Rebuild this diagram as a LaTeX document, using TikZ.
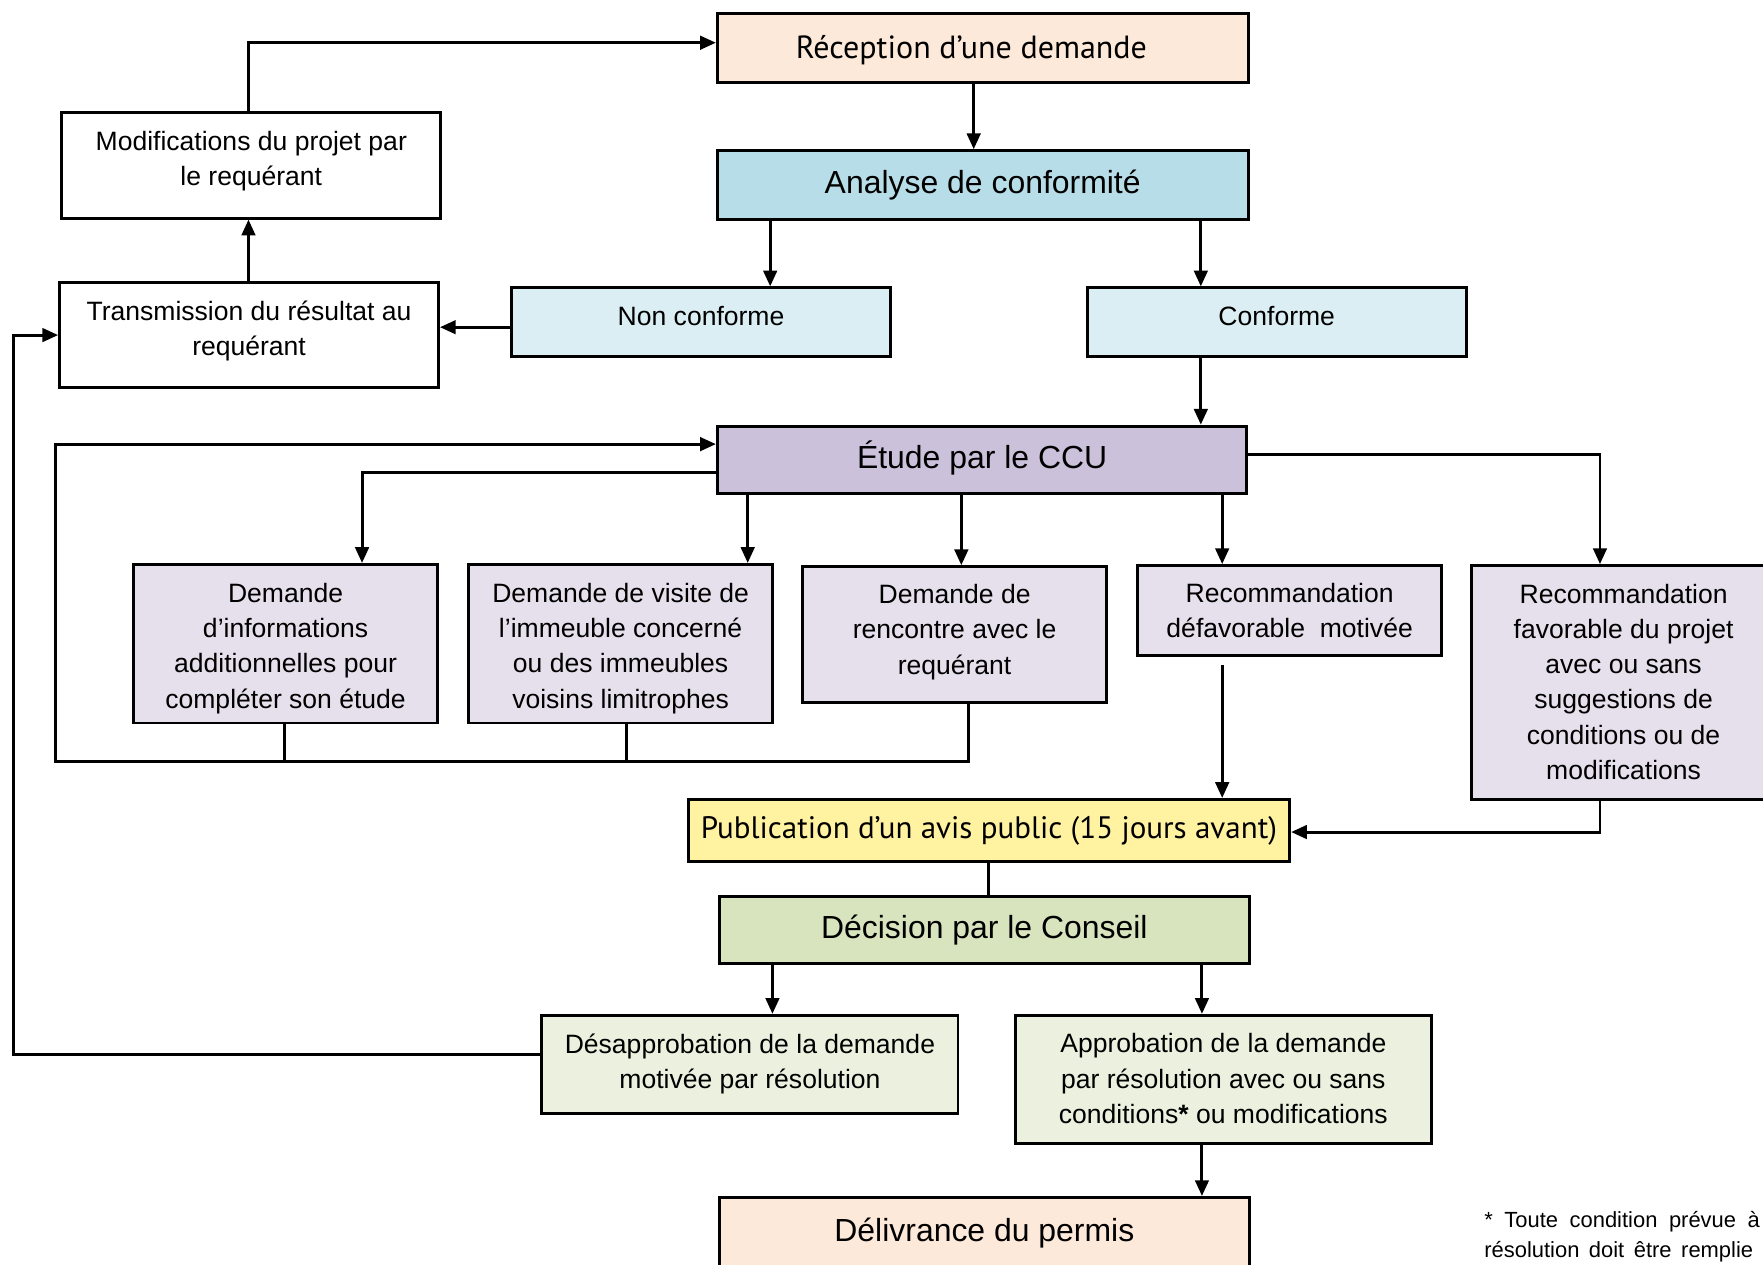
\documentclass[tikz,border=0pt]{standalone}
\usepackage{fontspec}
\setmainfont{Liberation Sans}
\newfontfamily\myr{PT Sans}
\usetikzlibrary{arrows.meta,calc}
\definecolor{peach}{HTML}{FDE9D9}
\definecolor{aqua}{HTML}{B7DEE8}
\definecolor{aqualt}{HTML}{DBEEF3}
\definecolor{purp}{HTML}{CCC1DA}
\definecolor{purplt}{HTML}{E5E0EC}
\definecolor{yel}{HTML}{FFF2A1}
\definecolor{olive}{HTML}{D7E4BD}
\definecolor{olivelt}{HTML}{EBF1DE}
\newcommand\fsmall{\fontsize{23.6}{31.3}\selectfont}
\newcommand\fbig{\fontsize{28.4}{32}\selectfont}
\newcommand\tl[2][0]{\raisebox{#1pt}[\height][\depth]{\begin{tabular}{@{}c@{}}#2\end{tabular}}}
\tikzset{
  box/.style={draw, line width=2.6pt, rectangle, inner sep=0pt, font=\fsmall},
  arr/.style={line width=2.6pt, -{Triangle[length=14pt,width=12pt]}},
  ln/.style={line width=2.6pt},
}
\begin{document}
\begin{tikzpicture}[x=1pt,y=-1pt]
\useasboundingbox (0,0) rectangle (1568,1125);
\fill[white] (0,0) rectangle (1568,1125);
\clip (0,0) rectangle (1568,1125);
% helper coordinates
\foreach \v in {12,49,221,253,322,557,665,685,687,855,861,866,879,1068,1069,1087,1423}{\coordinate (X\v) at (\v,0);}
\foreach \v in {38,291,395,404,420,677,740,938}{\coordinate (Y\v) at (0,\v);}
% nodes
\node[box, fill=peach, minimum width=472pt, minimum height=61pt, font=\myr\fontsize{28.5}{32}\selectfont] (rec) at (874,42.5) {\tl[-3]{Réception d’une demande}\rule{20pt}{0pt}};
\node[box, fill=aqua, minimum width=472pt, minimum height=61pt, font=\fbig] (ana) at (874,164.5) {\tl[-1]{Analyse de conformité}};
\node[box, fill=aqualt, minimum width=337pt, minimum height=61pt] (non) at (623.5,286.5) {\tl[3]{Non conforme}};
\node[box, fill=aqualt, minimum width=337pt, minimum height=61pt] (conf) at (1135.5,286.5) {\tl[3]{Conforme}};
\node[box, fill=white, minimum width=337pt, minimum height=94pt] (trans) at (221.5,298) {\tl[4]{Transmission du résultat au\\requérant}};
\node[box, fill=white, minimum width=337pt, minimum height=94pt] (modif) at (223.5,147) {\tl[4]{Modifications du projet par\\le requérant}};
\node[box, fill=purp, minimum width=471pt, minimum height=60pt, font=\fbig] (etude) at (873.5,409) {\tl{Étude par le CCU}};
\node[box, fill=purplt, minimum width=270pt, minimum height=141pt] (d1) at (254,572.5) {\tl[-4]{Demande\\d’informations\\additionnelles pour\\compléter son étude}};
\node[box, fill=purplt, minimum width=270pt, minimum height=141pt] (d2) at (552,572.5) {\tl[-4]{Demande de visite de\\l’immeuble concerné\\ou des immeubles\\voisins limitrophes}};
\node[box, fill=purplt, minimum width=270pt, minimum height=121pt] (d3) at (849,564.5) {\tl[2.5]{Demande de\\rencontre avec le\\requérant}};
\node[box, fill=purplt, minimum width=270pt, minimum height=80pt] (r1) at (1147,543) {\tl[-2.5]{Recommandation\\défavorable\ \ motivée}};
\node[box, fill=purplt, minimum width=270pt, minimum height=208pt] (r2) at (1444,607) {\tl[-1.5]{Recommandation\\favorable du projet\\avec ou sans\\suggestions de\\conditions ou de\\modifications}};
\node[box, fill=yel, minimum width=535pt, minimum height=55pt, font=\myr\fontsize{27.6}{32}\selectfont] (pub) at (879.5,738.5) {\tl[-1]{Publication d’un avis public (15 jours avant)}};
\node[box, fill=olive, minimum width=471pt, minimum height=60pt, font=\fbig] (dec) at (875.5,827) {\tl[-1]{Décision par le Conseil}};
\node[box, fill=olivelt, minimum width=370pt, minimum height=87pt] (des) at (667,946.5) {\tl{Désapprobation de la demande\\motivée par résolution}};
\node[box, fill=olivelt, minimum width=370pt, minimum height=114pt] (app) at (1088,960) {\tl[-1.5]{Approbation de la demande\\par résolution avec ou sans\\conditions\textbf{*} ou modifications}};
\node[box, fill=peach, minimum width=471pt, minimum height=61pt, font=\fbig] (del) at (875.5,1095.5) {\tl[-2]{Délivrance du permis}};
\node[anchor=base west, inner sep=0pt, align=left, font=\fontsize{19.5}{26}\selectfont] (note) at (1320,1118)
  {\makebox[245pt][s]{* Toute condition prévue à}\\\makebox[239pt][s]{résolution doit être remplie}};
% connectors
\draw[arr] (rec.south -| X866) -- (ana.north -| X866);
\draw[arr] (ana.south -| X685) -- (non.north -| X685);
\draw[arr] (ana.south -| X1068) -- (conf.north -| X1068);
\draw[arr] (non.west |- Y291) -- (trans.east |- Y291);
\draw[arr] (trans.north -| X221) -- (modif.south -| X221);
\draw[arr] (modif.north -| X221) |- (rec.west |- Y38);
\draw[arr] (conf.south -| X1068) -- (etude.north -| X1068);
\draw[arr] (etude.west |- Y420) -| (d1.north -| X322);
\draw[arr] (etude.south -| X665) -- (d2.north -| X665);
\draw[arr] (etude.south -| X855) -- (d3.north -| X855);
\draw[arr] (etude.south -| X1087) -- (r1.north -| X1087);
\draw[arr] (etude.east |- Y404) -| (r2.north -| X1423);
\draw[ln] (d1.south -| X253) -- (Y677 -| X253);
\draw[ln] (d2.south -| X557) -- (Y677 -| X557);
\draw[arr] (d3.south -| X861) |- (Y677 -| X49) |- (etude.west |- Y395);
\draw[arr] ($(r1.south -| X1087)+(0,7)$) -- (pub.north -| X1087);
\draw[arr] (r2.south -| X1423) |- (pub.east |- Y740);
\draw[ln] (pub.south -| X879) -- (dec.north -| X879);
\draw[arr] (dec.south -| X687) -- (des.north -| X687);
\draw[arr] (dec.south -| X1069) -- (app.north -| X1069);
\draw[arr] (des.west |- Y938) -| (X12 |- trans.west) -- (trans.west);
\draw[arr] (app.south -| X1069) -- (del.north -| X1069);
\end{tikzpicture}
\end{document}
